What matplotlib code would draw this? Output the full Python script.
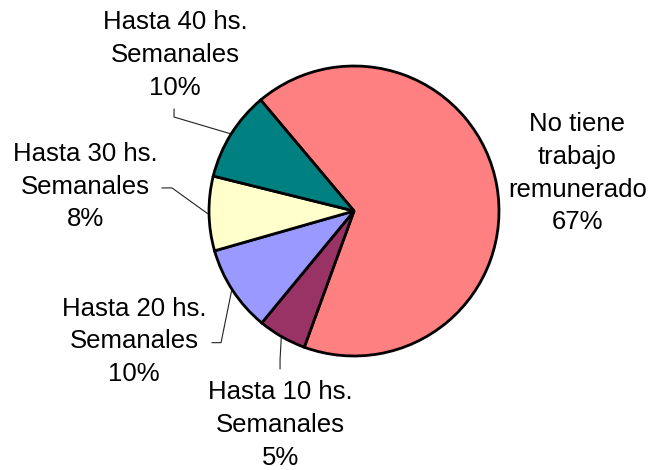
import numpy as np
import matplotlib.pyplot as plt

plt.rcParams['font.family'] = ['Liberation Sans', 'DejaVu Sans']

# datos (porcentajes)
categorias = ['No tiene\ntrabajo\nremunerado', 'Hasta 10 hs.\nSemanales',
              'Hasta 20 hs.\nSemanales', 'Hasta 30 hs.\nSemanales',
              'Hasta 40 hs.\nSemanales']
valores = [66.7, 5.4, 9.6, 8.3, 10.0]
colores = ['#FF8080', '#993366', '#9999FF', '#FFFFCC', '#008080']

# posicion de cada etiqueta (en radios del pie) y codo de la linea guia
pos_texto = [(1.54, 0.26), (-0.51, -1.476), (-1.517, -0.897), (-1.855, 0.166), (-1.234, 1.076)]
codos = [None,
         [(-0.51, -1.024), (-0.51, -1.088)],
         [(-0.917, -0.908), (-0.979, -0.908)],
         [(-1.255, 0.159), (-1.324, 0.159)],
         [(-1.241, 0.648), (-1.241, 0.703)]]

fig = plt.figure(figsize=(6.53, 4.70), dpi=100)
cx, cy, r = 354, 211, 145
ax = fig.add_axes([(cx - r) / 653, (470 - cy - r) / 470, 2 * r / 653, 2 * r / 470])

wedges, _ = ax.pie(valores, colors=colores, startangle=130.06, counterclock=False,
                   radius=1.0, wedgeprops=dict(edgecolor='black', linewidth=2.0))
ax.set_xlim(-1, 1)
ax.set_ylim(-1, 1)
ax.set_aspect('auto')
ax.axis('off')

for w, lab, v, (tx, ty), codo in zip(wedges, categorias, valores, pos_texto, codos):
    texto = f'{lab}\n{v:.0f}%'
    ax.text(tx, ty, texto, ha='center', va='center', multialignment='center',
            fontsize=18.5, linespacing=1.45, color='black')
    if codo is not None:
        ang = np.deg2rad((w.theta1 + w.theta2) / 2)
        x0, y0 = 1.01 * np.cos(ang), 1.01 * np.sin(ang)
        xs = [x0] + [p[0] for p in codo]
        ys = [y0] + [p[1] for p in codo]
        ax.plot(xs, ys, color='#222222', linewidth=0.8, clip_on=False)

fig.savefig('out.png', dpi=100, facecolor='white')
